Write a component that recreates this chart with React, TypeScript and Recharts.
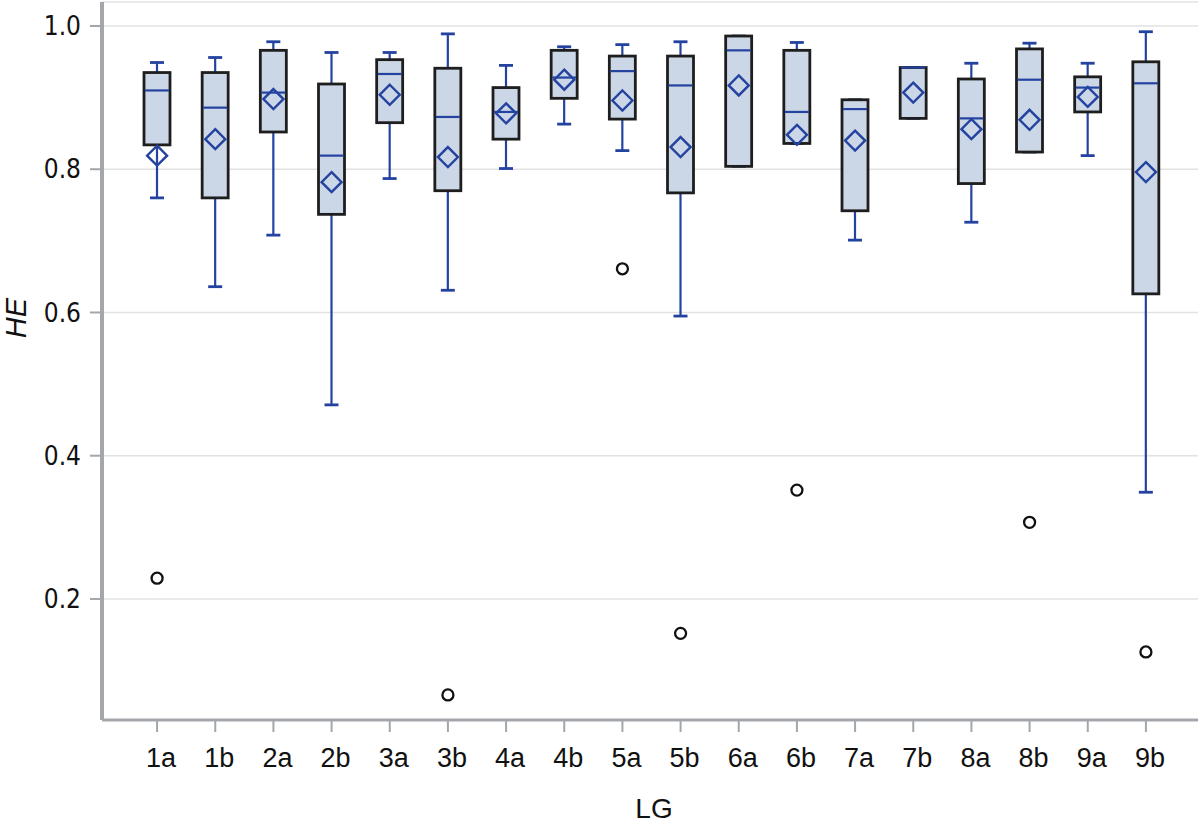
import React from "react";
import {
  ComposedChart,
  Bar,
  Scatter,
  XAxis,
  YAxis,
  CartesianGrid,
} from "recharts";

// HE per linkage group
const lgGroups = [
  "1a", "1b", "2a", "2b", "3a", "3b", "4a", "4b", "5a",
  "5b", "6a", "6b", "7a", "7b", "8a", "8b", "9a", "9b",
];
const whiskerLow = [
  0.76, 0.636, 0.708, 0.471, 0.787, 0.631, 0.801, 0.863, 0.826,
  0.595, 0.804, 0.836, 0.701, 0.871, 0.726, 0.824, 0.819, 0.349,
];
const q1 = [
  0.834, 0.76, 0.852, 0.737, 0.865, 0.77, 0.842, 0.899, 0.87,
  0.767, 0.804, 0.836, 0.742, 0.871, 0.78, 0.824, 0.88, 0.626,
];
const median = [
  0.91, 0.886, 0.907, 0.819, 0.933, 0.873, 0.88, 0.928, 0.937,
  0.917, 0.966, 0.88, 0.884, 0.942, 0.871, 0.925, 0.914, 0.92,
];
const q3 = [
  0.935, 0.935, 0.966, 0.919, 0.953, 0.941, 0.914, 0.966, 0.958,
  0.958, 0.986, 0.966, 0.897, 0.942, 0.926, 0.968, 0.929, 0.95,
];
const whiskerHigh = [
  0.949, 0.956, 0.978, 0.963, 0.963, 0.989, 0.945, 0.971, 0.974,
  0.978, 0.986, 0.977, 0.897, 0.942, 0.948, 0.976, 0.948, 0.992,
];
const mean = [
  0.819, 0.842, 0.898, 0.782, 0.904, 0.817, 0.878, 0.925, 0.896,
  0.831, 0.917, 0.848, 0.84, 0.907, 0.856, 0.869, 0.901, 0.796,
];
const outlier = [
  0.229, null, null, null, null, 0.066, null, null, 0.661,
  0.152, null, 0.352, null, null, null, 0.307, null, 0.126,
];
const yTicks = [0.2, 0.4, 0.6, 0.8, 1.0];

const rows = lgGroups.map((lg, i) => ({
  lg,
  whisker: [whiskerLow[i], whiskerHigh[i]],
  box: [q1[i], q3[i]],
  median: median[i],
  mean: mean[i],
  outlier: outlier[i],
}));

const BLUE = "#2443a0";
const AXIS = "#a3a7ab";
const PAD = { left: 26, right: 23 };

const WhiskerShape = (p: any) => {
  const { x, y, width, height } = p;
  if (x == null || y == null) return null;
  const cx = x + width / 2;
  const top = Math.min(y, y + height);
  const bot = Math.max(y, y + height);
  return (
    <g>
      <line x1={cx} x2={cx} y1={top} y2={bot} stroke={BLUE} strokeWidth={2.2} />
      <line x1={cx - 7} x2={cx + 7} y1={top} y2={top} stroke={BLUE} strokeWidth={2.8} />
      <line x1={cx - 7} x2={cx + 7} y1={bot} y2={bot} stroke={BLUE} strokeWidth={2.8} />
    </g>
  );
};

const BoxShape = (p: any) => {
  const { x, y, width, height } = p;
  if (x == null || y == null) return null;
  return (
    <rect
      x={x}
      y={Math.min(y, y + height)}
      width={width}
      height={Math.abs(height)}
      fill="#cbd6e6"
      stroke="#1e1e1e"
      strokeWidth={2.8}
    />
  );
};

const MedianShape = (p: any) => {
  const { cx, cy } = p;
  if (cx == null || cy == null || isNaN(cy)) return null;
  return <line x1={cx - 12} x2={cx + 12} y1={cy} y2={cy} stroke={BLUE} strokeWidth={2.2} />;
};

const MeanShape = (p: any) => {
  const { cx, cy } = p;
  if (cx == null || cy == null || isNaN(cy)) return null;
  const r = 10;
  return (
    <path
      d={`M${cx},${cy - r}L${cx + r},${cy}L${cx},${cy + r}L${cx - r},${cy}Z`}
      fill="none"
      stroke={BLUE}
      strokeWidth={2.4}
    />
  );
};

const OutlierShape = (p: any) => {
  const { cx, cy, payload } = p;
  if (payload == null || payload.outlier == null || cy == null || isNaN(cy)) return null;
  return <circle cx={cx} cy={cy} r={5.5} fill="#fff" stroke="#111" strokeWidth={2.3} />;
};

const HeTitle = (props: any) => {
  const vb = props.viewBox || { x: 0, y: 0, height: 0 };
  const x = vb.x + 16;
  const y = vb.y + vb.height / 2 - 43;
  return (
    <text
      x={x}
      y={y}
      transform={`rotate(-90 ${x} ${y})`}
      textAnchor="middle"
      dominantBaseline="central"
      fontFamily="Liberation Sans, Arial, sans-serif"
      fontStyle="italic"
      fontSize={29}
      fill="#111"
    >
      HE
    </text>
  );
};

const LgTitle = (props: any) => {
  const vb = props.viewBox || { x: 0, y: 0, width: 0, height: 0 };
  return (
    <text
      x={vb.x + vb.width / 2 + 4}
      y={vb.y + vb.height - 7}
      textAnchor="middle"
      fontFamily="Liberation Sans, Arial, sans-serif"
      fontSize={28}
      fill="#111"
    >
      LG
    </text>
  );
};

export default function App() {
  return (
    <div style={{ position: "absolute", left: 0, top: 0, width: 1200, height: 825, background: "#fff" }}>
      <ComposedChart
        width={1200}
        height={825}
        data={rows}
        margin={{ top: 2, right: 2, bottom: 0, left: 0 }}
      >
        <CartesianGrid vertical={false} stroke="#e2e2e2" strokeWidth={1.5} />
        <XAxis
          dataKey="lg"
          type="category"
          allowDuplicatedCategory={false}
          padding={PAD}
          height={105}
          axisLine={{ stroke: AXIS, strokeWidth: 3 }}
          tickLine={{ stroke: AXIS, strokeWidth: 2 }}
          tickSize={12}
          tickMargin={16}
          tick={{ fontFamily: "Liberation Sans, Arial, sans-serif", fontSize: 27, fill: "#111", dx: 4 }}
          interval={0}
          label={<LgTitle />}
        />
        <XAxis xAxisId="w" dataKey="lg" hide padding={PAD} />
        <XAxis xAxisId="b" dataKey="lg" hide padding={PAD} />
        <XAxis
          xAxisId="top"
          orientation="top"
          dataKey="lg"
          height={0}
          padding={PAD}
          tick={false}
          tickLine={false}
          axisLine={{ stroke: AXIS, strokeWidth: 2 }}
        />
        <YAxis
          type="number"
          domain={[0.031, 1.0335]}
          allowDataOverflow
          ticks={yTicks}
          width={102}
          axisLine={{ stroke: AXIS, strokeWidth: 4 }}
          tickLine={{ stroke: AXIS, strokeWidth: 2 }}
          tickSize={12}
          tickMargin={9}
          tickFormatter={(v: number) => v.toFixed(1)}
          tick={{ fontFamily: "Liberation Sans Narrow, DejaVu Sans Condensed, sans-serif", fontSize: 26, fill: "#111" }}
          label={<HeTitle />}
        />
        <YAxis
          yAxisId="right"
          orientation="right"
          type="number"
          domain={[0, 1]}
          width={0}
          tick={false}
          tickLine={false}
          axisLine={{ stroke: AXIS, strokeWidth: 2 }}
        />
        <Bar
          xAxisId="w"
          dataKey="whisker"
          barSize={26}
          shape={<WhiskerShape />}
          isAnimationActive={false}
        />
        <Bar
          xAxisId="b"
          dataKey="box"
          barSize={26}
          shape={<BoxShape />}
          isAnimationActive={false}
        />
        <Scatter dataKey="median" shape={<MedianShape />} isAnimationActive={false} />
        <Scatter dataKey="mean" shape={<MeanShape />} isAnimationActive={false} />
        <Scatter dataKey="outlier" shape={<OutlierShape />} isAnimationActive={false} />
      </ComposedChart>
    </div>
  );
}
